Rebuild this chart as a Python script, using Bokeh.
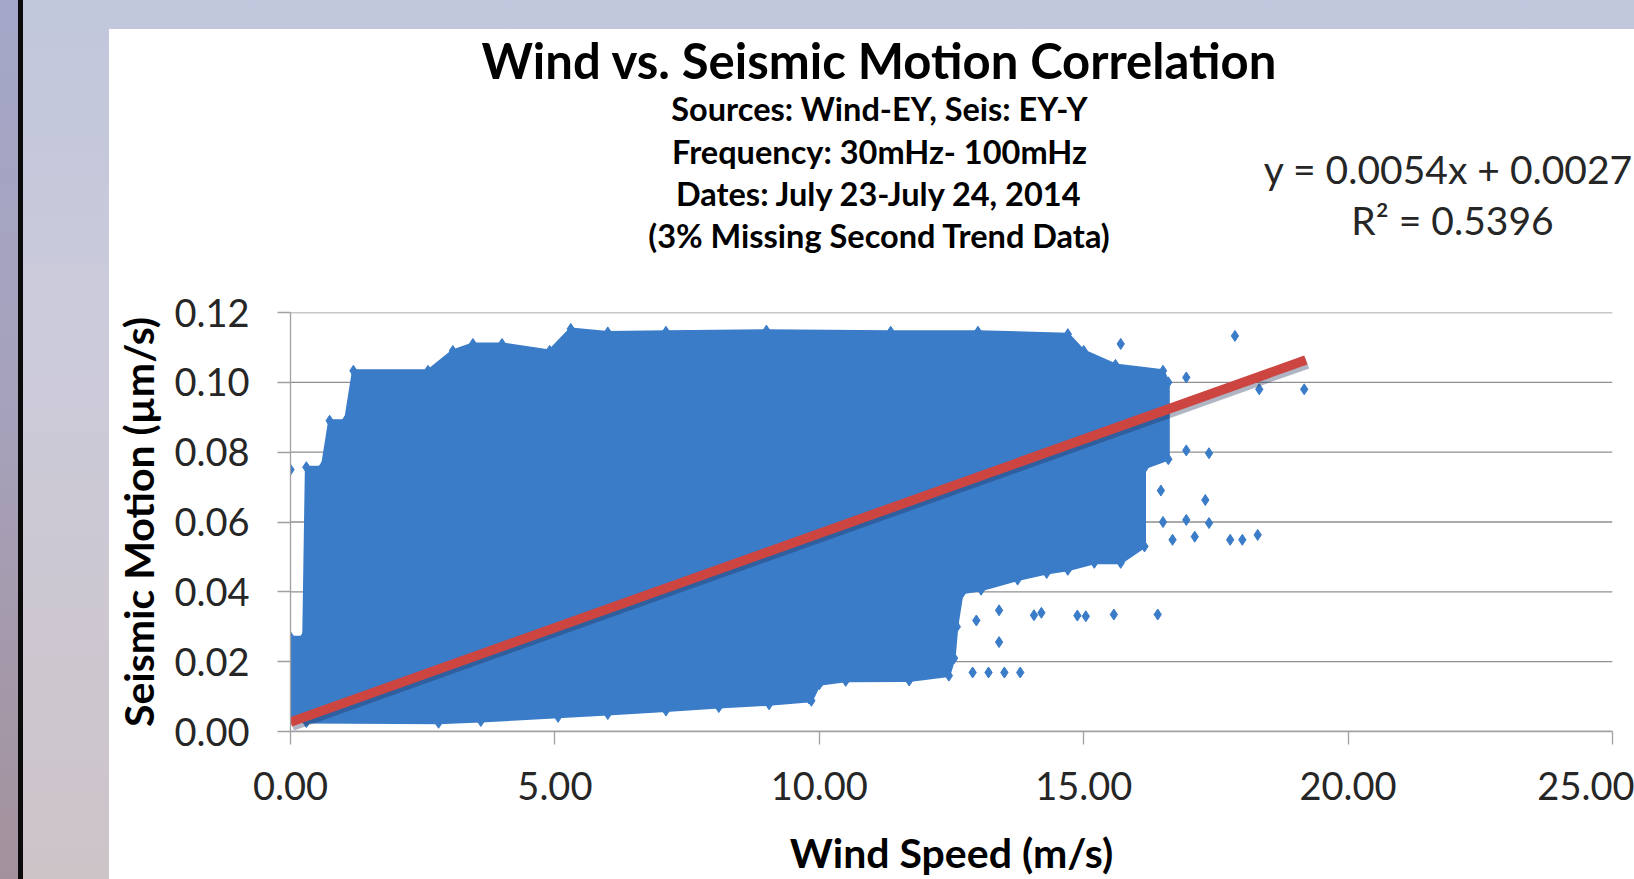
from bokeh.plotting import figure
from bokeh.models import Range1d, FixedTicker, NumeralTickFormatter, Spacer
from bokeh.layouts import column, row
from bokeh.core.properties import value
from bokeh.embed import file_html
from bokeh.resources import INLINE

# ---------------- data ----------------
title = "Wind vs. Seismic Motion Correlation"
subtitles = ["Sources: Wind-EY, Seis: EY-Y",
             "Frequency: 30mHz- 100mHz",
             "Dates: July 23-July 24, 2014",
             "(3% Missing Second Trend Data)"]
x_label = "Wind Speed (m/s)"
y_label = "Seismic Motion (\u00b5m/s)"
x_ticks = [0, 5, 10, 15, 20, 25]
y_ticks = [0.00, 0.02, 0.04, 0.06, 0.08, 0.10, 0.12]

# outline of the dense cloud of measurements (wind m/s, seismic um/s)
cloud_x = [0.0, 0.3, 2.8, 3.6, 5.06, 6.0, 7.1, 8.1, 9.05, 9.85, 10.0, 10.5, 11.7,
           12.45, 12.55, 12.6, 12.7, 13.06, 13.75, 14.3, 14.7, 15.2, 15.7, 16.15,
           16.15, 16.6, 16.6, 16.5, 15.6, 15.0, 14.7,
           13.0, 11.35, 9.0, 7.1, 6.0, 5.3, 4.9, 4.0, 3.45, 3.07, 2.6, 1.19, 1.04,
           0.74, 0.6, 0.3, 0.25, 0.0]
cloud_y = [0.0035, 0.0027, 0.0025, 0.003, 0.0042, 0.005, 0.006, 0.007, 0.0078, 0.0088,
           0.0135, 0.0145, 0.0146, 0.016, 0.021, 0.030, 0.0397, 0.0406, 0.0435, 0.0454,
           0.0463, 0.0483, 0.0483, 0.053,
           0.0755, 0.078, 0.100, 0.1033, 0.105, 0.109, 0.1138,
           0.1145, 0.1145, 0.1148, 0.1145, 0.1143, 0.1153, 0.109, 0.111, 0.111, 0.109,
           0.1033, 0.1033, 0.089, 0.089, 0.0757, 0.0757, 0.027, 0.027]

# scattered individual measurements outside the cloud
pts_x = [0.0, 17.86, 18.32, 19.17, 16.94, 15.7, 16.94, 17.37, 16.46, 17.3, 16.5,
         16.94, 17.37, 16.68, 17.1, 17.77, 18.0, 18.29, 12.97, 13.4, 13.4, 14.06,
         14.2, 14.88, 15.04, 15.57, 16.4, 12.9, 13.2, 13.5, 13.8, 9.8]
pts_y = [0.075, 0.1133, 0.098, 0.098, 0.1014, 0.111, 0.0805, 0.0797, 0.069, 0.0663,
         0.060, 0.0606, 0.0597, 0.0549, 0.0558, 0.0549, 0.0549, 0.0563, 0.0318, 0.0347,
         0.0256, 0.0333, 0.034, 0.0332, 0.033, 0.0335, 0.0335, 0.0169, 0.0169, 0.0169,
         0.0169, 0.0095]

# linear trend shown on the chart
slope = 0.0054
intercept = 0.0027
trend_x = [0.0, 19.2]
trend_y = [slope * v + intercept for v in trend_x]
eq_lines = ["y = 0.0054x + 0.0027", "R\u00b2 = 0.5396"]

# ---------------- styling ----------------
FONT = "Lato"
BLUE = "#3b7cc8"
RED = "#cc4541"
GRID = "#8f8f8f"
AXIS = "#a0a0a0"
TXT = "#262626"

W = 1525          # width of the white chart area
TOP_H = 250       # text band above the plot
PLOT_H = 600
LEFT = 181        # room for the y axis

# ---- text band (title, subtitles, trend equation) ----
tf = figure(width=W, height=TOP_H, x_range=Range1d(0, W - LEFT),
            y_range=Range1d(TOP_H, 0), output_backend="svg", toolbar_location=None,
            min_border_left=LEFT, min_border_right=0, min_border_top=0,
            min_border_bottom=0)
tf.axis.visible = False
tf.grid.visible = False
tf.outline_line_color = None
tf.background_fill_color = "white"
tf.border_fill_color = "white"
tf.text(x=[589], y=[30], text=[title], text_font=value(FONT), text_font_style="bold",
        text_font_size="49px", text_align="center", text_baseline="middle",
        text_color="black")
tf.text(x=[589] * 4, y=[79, 122, 164, 206], text=subtitles, text_font=value(FONT),
        text_font_style="bold", text_font_size="32.5px", text_align="center",
        text_baseline="middle", text_color="black")
tf.text(x=[1158, 1162], y=[139, 190], text=eq_lines, text_font=value(FONT),
        text_font_size="39px", text_align="center", text_baseline="middle",
        text_color=TXT)

# ---- main scatter plot ----
p = figure(width=W, height=PLOT_H, x_range=Range1d(0, 25),
           y_range=Range1d(0, 0.12), output_backend="svg", toolbar_location=None,
           min_border_left=LEFT, min_border_right=22, min_border_top=33,
           min_border_bottom=146)
p.background_fill_color = "white"
p.border_fill_color = "white"
p.outline_line_color = None
p.grid.visible = False

for ax in (p.xaxis[0], p.yaxis[0]):
    ax.axis_line_color = AXIS
    ax.axis_line_width = 1.3
    ax.major_tick_line_color = AXIS
    ax.major_tick_line_width = 1.3
    ax.major_tick_out = 13
    ax.major_tick_in = 0
    ax.minor_tick_line_color = None
    ax.major_label_text_font = FONT
    ax.major_label_text_font_size = "38px"
    ax.major_label_text_color = TXT
    ax.formatter = NumeralTickFormatter(format="0.00")
    ax.axis_label_text_font = FONT
    ax.axis_label_text_font_style = "bold"
    ax.axis_label_text_font_size = "41px"
    ax.axis_label_text_color = "black"

p.xaxis.ticker = FixedTicker(ticks=x_ticks)
p.yaxis.ticker = FixedTicker(ticks=y_ticks)
p.xaxis.axis_label = x_label
p.yaxis.axis_label = y_label
p.xaxis.major_label_standoff = 27
p.yaxis.major_label_standoff = 28
p.xaxis.axis_label_standoff = 25
p.yaxis.axis_label_standoff = 8

# horizontal gridlines spanning the axis extent
p.segment(x0=[x_ticks[0]] * len(y_ticks), x1=[x_ticks[-1]] * len(y_ticks),
          y0=y_ticks, y1=y_ticks, line_color=GRID, line_width=1.3)

# shadow ranges: same data, drawn a few pixels lower/right
p.extra_y_ranges = {"shadow": Range1d(0.0009, 0.1209)}
p.extra_x_ranges = {"shadow": Range1d(-0.03, 24.97)}

p.patch(cloud_x, cloud_y, fill_color=BLUE, line_color=BLUE, line_width=3)
p.scatter(cloud_x, cloud_y, marker="diamond", size=11, color=BLUE)
p.scatter(pts_x, pts_y, marker="diamond", size=11, color=BLUE)

p.line(trend_x, trend_y, line_color="#1a2a50", line_alpha=0.35, line_width=11,
       x_range_name="shadow", y_range_name="shadow")
p.line(trend_x, trend_y, line_color=RED, line_width=9.5)

# ---- page background around the white chart ----
left_strip = Spacer(width=18, height=879,
                    styles={"background": "linear-gradient(to bottom, #a4a7c8, #a6a2bc 45%, #a3929c)"})
black_bar = Spacer(width=5, height=879, styles={"background": "#0b0b0b"})
chart = column(row(tf), p, styles={"background": "white"})
inner = column(Spacer(width=1611, height=29),
               row(Spacer(width=86, height=850), chart),
               styles={"background": "linear-gradient(to bottom, #c1c7dc, #cccbda 40%, #cdc4c8)"})
root = row(left_strip, black_bar, inner)

open("out.html", "w").write(file_html(root, INLINE))
